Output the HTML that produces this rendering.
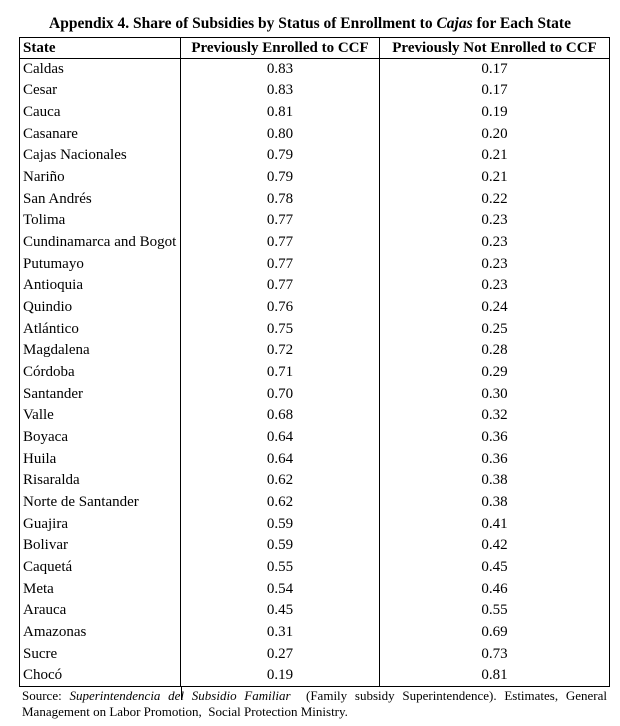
<!DOCTYPE html>
<html><head><meta charset="utf-8"><style>
body{margin:0;width:620px;height:726px;background:#fff;position:relative;font-family:"Liberation Serif",serif;color:#000;overflow:hidden}
.t{position:absolute;left:0;width:620px;top:14px;text-align:center;font-weight:bold;font-size:15.5px;line-height:20px}
table{position:absolute;left:19px;top:37px;border-collapse:collapse;font-size:15px;table-layout:fixed}
td,th{padding:0 0 0 3px;height:21.66px;line-height:21px;white-space:nowrap;overflow:hidden;box-sizing:border-box}
th{font-weight:bold;border-bottom:1px solid #000;height:21px;line-height:19px}
.c{text-align:center;padding:0}
.b{border-left:1.5px solid #000}
.src{position:absolute;left:22px;top:688px;width:585px;font-size:13px;line-height:16px;text-align:justify;text-align-last:left}
.vb{position:absolute;left:181px;top:686px;width:1px;height:14px;background:#000}
</style></head><body>
<div class="t">Appendix 4. Share of Subsidies by Status of Enrollment to <i>Cajas</i> for Each State</div>
<table style="border:1.5px solid #000">
<colgroup><col style="width:161px"><col style="width:199px"><col style="width:230px"></colgroup>
<tr><th style="text-align:left">State</th><th class="c b">Previously Enrolled to CCF</th><th class="c b">Previously Not Enrolled to CCF</th></tr>
<tr><td>Caldas</td><td class="c b">0.83</td><td class="c b">0.17</td></tr>
<tr><td>Cesar</td><td class="c b">0.83</td><td class="c b">0.17</td></tr>
<tr><td>Cauca</td><td class="c b">0.81</td><td class="c b">0.19</td></tr>
<tr><td>Casanare</td><td class="c b">0.80</td><td class="c b">0.20</td></tr>
<tr><td>Cajas Nacionales</td><td class="c b">0.79</td><td class="c b">0.21</td></tr>
<tr><td>Nariño</td><td class="c b">0.79</td><td class="c b">0.21</td></tr>
<tr><td>San Andrés</td><td class="c b">0.78</td><td class="c b">0.22</td></tr>
<tr><td>Tolima</td><td class="c b">0.77</td><td class="c b">0.23</td></tr>
<tr><td>Cundinamarca and Bogot</td><td class="c b">0.77</td><td class="c b">0.23</td></tr>
<tr><td>Putumayo</td><td class="c b">0.77</td><td class="c b">0.23</td></tr>
<tr><td>Antioquia</td><td class="c b">0.77</td><td class="c b">0.23</td></tr>
<tr><td>Quindio</td><td class="c b">0.76</td><td class="c b">0.24</td></tr>
<tr><td>Atlántico</td><td class="c b">0.75</td><td class="c b">0.25</td></tr>
<tr><td>Magdalena</td><td class="c b">0.72</td><td class="c b">0.28</td></tr>
<tr><td>Córdoba</td><td class="c b">0.71</td><td class="c b">0.29</td></tr>
<tr><td>Santander</td><td class="c b">0.70</td><td class="c b">0.30</td></tr>
<tr><td>Valle</td><td class="c b">0.68</td><td class="c b">0.32</td></tr>
<tr><td>Boyaca</td><td class="c b">0.64</td><td class="c b">0.36</td></tr>
<tr><td>Huila</td><td class="c b">0.64</td><td class="c b">0.36</td></tr>
<tr><td>Risaralda</td><td class="c b">0.62</td><td class="c b">0.38</td></tr>
<tr><td>Norte de Santander</td><td class="c b">0.62</td><td class="c b">0.38</td></tr>
<tr><td>Guajira</td><td class="c b">0.59</td><td class="c b">0.41</td></tr>
<tr><td>Bolivar</td><td class="c b">0.59</td><td class="c b">0.42</td></tr>
<tr><td>Caquetá</td><td class="c b">0.55</td><td class="c b">0.45</td></tr>
<tr><td>Meta</td><td class="c b">0.54</td><td class="c b">0.46</td></tr>
<tr><td>Arauca</td><td class="c b">0.45</td><td class="c b">0.55</td></tr>
<tr><td>Amazonas</td><td class="c b">0.31</td><td class="c b">0.69</td></tr>
<tr><td>Sucre</td><td class="c b">0.27</td><td class="c b">0.73</td></tr>
<tr><td>Chocó</td><td class="c b">0.19</td><td class="c b">0.81</td></tr>
</table>
<div class="vb"></div>
<div class="src">Source: <i>Superintendencia del Subsidio Familiar</i> &nbsp;(Family subsidy Superintendence). Estimates, General Management on Labor Promotion, &nbsp;Social Protection Ministry.</div>
</body></html>
